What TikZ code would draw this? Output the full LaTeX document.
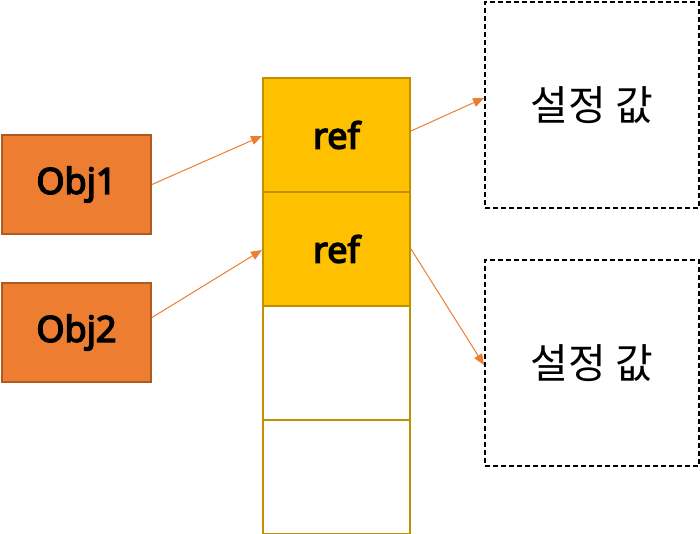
\documentclass[tikz,border=0pt]{standalone}
\usepackage{fontspec}
\setmainfont{Noto Sans}
\newfontfamily\boldish{Noto Sans}[FakeBold=4]
\newfontfamily\kofont{Noto Sans CJK KR}
\usetikzlibrary{arrows.meta}
\definecolor{objfill}{HTML}{ED7D31}
\definecolor{objdraw}{HTML}{AE5A21}
\definecolor{reffill}{HTML}{FFC000}
\definecolor{refdraw}{HTML}{BF9000}
\definecolor{arr}{HTML}{ED7D31}
\tikzset{
  objbox/.style={draw=objdraw, fill=objfill, line width=2pt, minimum width=149pt, minimum height=99pt, inner sep=0pt, anchor=north west, font=\boldish\fontsize{36}{42}\selectfont},
  cellbox/.style={draw=refdraw, line width=2pt, minimum width=147pt, minimum height=114pt, inner sep=0pt, anchor=north west, font=\boldish\fontsize{36}{42}\selectfont},
  valbox/.style={draw=black, dash pattern=on 5pt off 3pt, line width=2pt, minimum width=214pt, minimum height=206pt, inner sep=0pt, anchor=north west, font=\kofont\fontsize{41}{48}\selectfont},
  link/.style={draw=arr, line width=1pt, -{Triangle[length=11pt,width=9pt]}}
}
\begin{document}
\begin{tikzpicture}[x=1pt,y=-1pt]
\useasboundingbox (0,0) rectangle (700,534);
\node[objbox] (obj1) at (1,134) {Obj1};
\node[objbox] (obj2) at (1,282) {Obj2};
\node[cellbox, fill=reffill] (c1) at (262,77) {ref};
\node[cellbox, fill=reffill] (c2) at (262,191) {ref};
\node[cellbox] (c3) at (262,305) {};
\node[cellbox] (c4) at (262,419) {};
\node[valbox] (v1) at (484,1) {설정 값};
\node[valbox] (v2) at (484,259) {설정 값};
\draw[link] (obj1.east) -- ([yshift=-1pt]c1.west);
\draw[link] ([yshift=15pt]obj2.east) -- ([yshift=-1pt]c2.west);
\draw[link] ([yshift=4pt]c1.east) -- ([yshift=7pt]v1.west);
\draw[link] (c2.east) -- ([yshift=-2pt]v2.west);
\end{tikzpicture}
\end{document}
